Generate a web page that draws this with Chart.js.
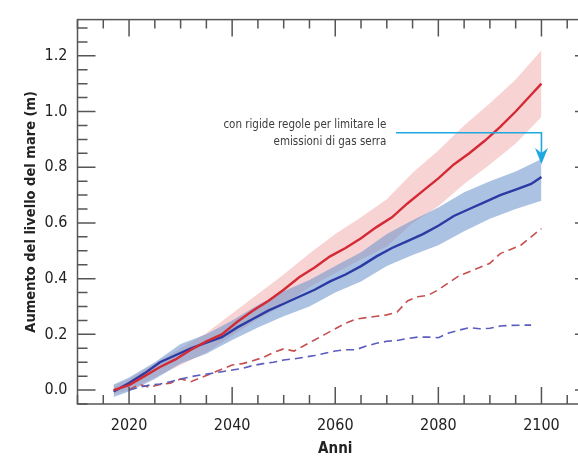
<!DOCTYPE html>
<html>
<head>
<meta charset="utf-8">
<script src="https://cdn.jsdelivr.net/npm/chart.js@4.4.1/dist/chart.umd.min.js"></script>
<style>
  html, body { margin: 0; padding: 0; overflow: hidden; background: #fff; }
  #wrap { position: relative; width: 600px; height: 458px; }
</style>
</head>
<body>
<div id="wrap"><canvas id="seaChart"></canvas></div>
<script>
// anni delle mediane (linee piene)
const yearsSolid = [2017, 2020, 2023, 2026, 2029, 2032, 2035, 2038, 2041, 2044, 2047, 2050, 2053, 2056, 2059,
  2062, 2065, 2068, 2071, 2074, 2077, 2080, 2083, 2086, 2089, 2092, 2095, 2098, 2100];
const redMedian = [0, 0.018, 0.05, 0.083, 0.11, 0.145, 0.175, 0.2, 0.245, 0.285, 0.32, 0.36, 0.405, 0.44, 0.48,
  0.51, 0.545, 0.585, 0.62, 0.67, 0.715, 0.76, 0.81, 0.85, 0.895, 0.945, 1.0, 1.06, 1.10];
const blueMedian = [-0.005, 0.025, 0.06, 0.1, 0.125, 0.15, 0.17, 0.19, 0.225, 0.255, 0.285, 0.31, 0.335, 0.36, 0.39,
  0.415, 0.445, 0.48, 0.51, 0.535, 0.56, 0.59, 0.625, 0.65, 0.675, 0.7, 0.72, 0.74, 0.765];

// fasce di incertezza
const yearsBand = [2017, 2020, 2025, 2030, 2035, 2040, 2045, 2050, 2055, 2060, 2065, 2070, 2075, 2080, 2085, 2090, 2095, 2100];
const redHigh = [0.015, 0.04, 0.095, 0.15, 0.205, 0.275, 0.345, 0.415, 0.49, 0.56, 0.62, 0.685, 0.78, 0.86, 0.95, 1.03, 1.115, 1.22];
const redLow = [-0.015, 0.0, 0.045, 0.09, 0.135, 0.195, 0.255, 0.305, 0.37, 0.42, 0.47, 0.515, 0.6, 0.66, 0.74, 0.81, 0.885, 0.98];
const blueHigh = [0.02, 0.045, 0.1, 0.165, 0.2, 0.25, 0.305, 0.355, 0.395, 0.445, 0.495, 0.56, 0.61, 0.655, 0.71, 0.75, 0.785, 0.83];
const blueLow = [-0.025, -0.005, 0.04, 0.095, 0.13, 0.18, 0.225, 0.265, 0.3, 0.35, 0.39, 0.445, 0.485, 0.52, 0.57, 0.615, 0.65, 0.68];

// linee tratteggiate
const yearsRedDash = [2020, 2022, 2024, 2026, 2028, 2030, 2032, 2034, 2036, 2038, 2040, 2042, 2044, 2046, 2048, 2050,
  2052, 2054, 2056, 2058, 2060, 2062, 2064, 2066, 2068, 2070, 2072, 2074, 2076, 2078, 2080, 2082, 2084, 2086, 2088,
  2090, 2092, 2094, 2096, 2098, 2100];
const redDashed = [0, 0.02, 0.01, 0.02, 0.025, 0.04, 0.03, 0.045, 0.06, 0.075, 0.09, 0.095, 0.105, 0.117, 0.135, 0.148,
  0.14, 0.16, 0.18, 0.2, 0.22, 0.24, 0.255, 0.26, 0.265, 0.27, 0.28, 0.32, 0.335, 0.34, 0.36, 0.385, 0.41, 0.425, 0.44,
  0.455, 0.49, 0.505, 0.52, 0.55, 0.58];
const yearsBlueDash = [2020, 2022, 2024, 2026, 2028, 2030, 2032, 2034, 2036, 2038, 2040, 2042, 2044, 2046, 2048, 2050,
  2052, 2054, 2056, 2058, 2060, 2062, 2064, 2066, 2068, 2070, 2072, 2074, 2076, 2078, 2080, 2082, 2084, 2086, 2088,
  2090, 2092, 2094, 2096, 2098];
const blueDashed = [0, 0.01, 0.018, 0.022, 0.03, 0.04, 0.048, 0.055, 0.06, 0.066, 0.072, 0.078, 0.088, 0.095, 0.1, 0.108,
  0.112, 0.118, 0.124, 0.132, 0.14, 0.145, 0.145, 0.158, 0.168, 0.175, 0.178, 0.185, 0.19, 0.19, 0.188, 0.205, 0.215,
  0.224, 0.22, 0.222, 0.23, 0.232, 0.233, 0.233];

const xTickLabels = [2020, 2040, 2060, 2080, 2100];
const yTickLabels = [0, 0.2, 0.4, 0.6, 0.8, 1.0, 1.2];
const noteLines = ['con rigide regole per limitare le', 'emissioni di gas serra'];

const FONT = "'DejaVu Sans Condensed', 'Liberation Sans Narrow', sans-serif";
const toXY = (xs, ys) => xs.map((x, i) => ({ x, y: ys[i] }));

// cornice con tacche interne + freccia e nota
const frameTicks = {
  id: 'frameTicks',
  afterDraw(chart) {
    const { ctx, chartArea: a, scales: { x, y } } = chart;
    ctx.save();
    ctx.strokeStyle = '#555';
    ctx.lineWidth = 1.5;
    ctx.strokeRect(a.left, a.top, a.right - a.left, a.bottom - a.top);
    ctx.beginPath();
    for (let v = 2010; v <= 2110; v += 5) {
      const px = x.getPixelForValue(v);
      const len = v % 20 === 0 ? 17 : 9;
      ctx.moveTo(px, a.bottom); ctx.lineTo(px, a.bottom - len);
      ctx.moveTo(px, a.top); ctx.lineTo(px, a.top + len);
    }
    for (let i = -1; i <= 26; i++) {
      const py = y.getPixelForValue(i * 0.05);
      const len = i % 4 === 0 ? 18 : 10;
      ctx.moveTo(a.left, py); ctx.lineTo(a.left + len, py);
      ctx.moveTo(a.right, py); ctx.lineTo(a.right - len, py);
    }
    ctx.stroke();

    // freccia azzurra
    const hx0 = x.getPixelForValue(2071.8);
    const hx1 = x.getPixelForValue(2100);
    const hy = y.getPixelForValue(0.924);
    const tipY = y.getPixelForValue(0.812);
    ctx.strokeStyle = '#1ea8e0';
    ctx.fillStyle = '#1ea8e0';
    ctx.lineWidth = 1.6;
    ctx.beginPath();
    ctx.moveTo(hx0, hy); ctx.lineTo(hx1, hy); ctx.lineTo(hx1, tipY - 10);
    ctx.stroke();
    ctx.beginPath();
    ctx.moveTo(hx1, tipY);
    ctx.lineTo(hx1 - 6.5, tipY - 16);
    ctx.lineTo(hx1, tipY - 11);
    ctx.lineTo(hx1 + 6.5, tipY - 16);
    ctx.closePath();
    ctx.fill();

    // nota
    ctx.fillStyle = '#3c3c3c';
    ctx.font = '11.5px ' + FONT;
    ctx.textAlign = 'right';
    ctx.textBaseline = 'middle';
    const tx = x.getPixelForValue(2069.9);
    ctx.fillText(noteLines[0], tx, hy - 8);
    ctx.fillText(noteLines[1], tx, hy + 9);
    ctx.restore();
  }
};

const ctx = document.getElementById('seaChart').getContext('2d');
new Chart(ctx, {
  type: 'line',
  data: {
    datasets: [
      { data: toXY(yearsBand, redHigh), borderWidth: 0, pointRadius: 0, fill: false, order: 8 },
      { data: toXY(yearsBand, redLow), borderWidth: 0, pointRadius: 0, fill: '-1',
        backgroundColor: 'rgba(238, 150, 150, 0.42)', order: 7 },
      { data: toXY(yearsBand, blueHigh), borderWidth: 0, pointRadius: 0, fill: false, order: 6 },
      { data: toXY(yearsBand, blueLow), borderWidth: 0, pointRadius: 0, fill: '-1',
        backgroundColor: 'rgba(110, 150, 205, 0.58)', order: 5 },
      { data: toXY(yearsRedDash, redDashed), borderColor: '#c4504f', borderWidth: 1.6,
        borderDash: [8, 5], pointRadius: 0, fill: false, order: 4 },
      { data: toXY(yearsBlueDash, blueDashed), borderColor: '#5a5cbf', borderWidth: 1.6,
        borderDash: [8, 5], pointRadius: 0, fill: false, order: 3 },
      { data: toXY(yearsSolid, blueMedian), borderColor: '#2b3ba3', borderWidth: 2.4,
        pointRadius: 0, fill: false, order: 2 },
      { data: toXY(yearsSolid, redMedian), borderColor: '#d42a36', borderWidth: 2.4,
        pointRadius: 0, fill: false, order: 1 }
    ]
  },
  options: {
    responsive: true,
    maintainAspectRatio: false,
    animation: false,
    layout: { padding: { top: 13, right: 7, left: 0, bottom: 0 } },
    plugins: { legend: { display: false }, tooltip: { enabled: false } },
    scales: {
      x: {
        type: 'linear',
        min: 2010,
        max: 2110,
        afterBuildTicks: scale => { scale.ticks = xTickLabels.map(v => ({ value: v })); },
        afterFit: scale => { scale.height = 54; },
        grid: { display: false, drawTicks: false },
        border: { display: false },
        ticks: { color: '#222', padding: 12, maxRotation: 0, font: { family: FONT, size: 16 },
          callback: v => String(v) },
        title: { display: true, text: 'Anni', color: '#222', padding: { top: 0, bottom: 0 },
          font: { family: FONT, size: 15, weight: 'bold' } }
      },
      y: {
        min: -0.05,
        max: 1.33,
        afterBuildTicks: scale => { scale.ticks = yTickLabels.map(v => ({ value: v })); },
        afterFit: scale => { scale.width = 77.5; },
        grid: { display: false, drawTicks: false },
        border: { display: false },
        ticks: { color: '#222', padding: 10, font: { family: FONT, size: 16 },
          callback: v => v.toFixed(1) },
        title: { display: true, text: 'Aumento del livello del mare (m)', color: '#222',
          padding: { top: 23, bottom: 0 }, font: { family: FONT, size: 14.5, weight: 'bold' } }
      }
    }
  },
  plugins: [frameTicks]
});
</script>
</body>
</html>
